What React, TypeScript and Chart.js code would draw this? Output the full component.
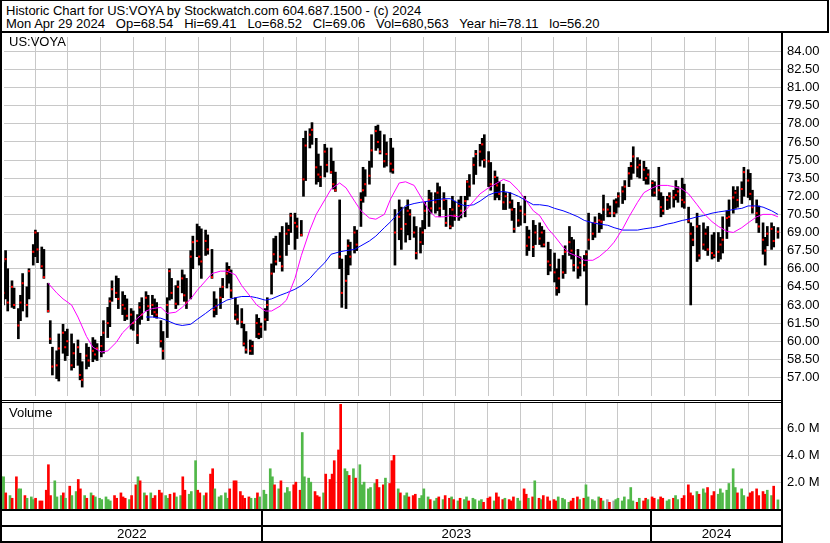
import React, { useEffect, useRef } from 'react';
import { Chart, registerables } from 'chart.js';
Chart.register(...registerables);

// ---------------- data ----------------
const FIRST_DAY = '2022-05-02';      // first sampled session
const STEP_WEEKDAYS = 2;              // one bar every second weekday
const MONTH_FIRST = '2022-06';
const MONTH_LAST = '2024-04';
const yearLabels = ['2022', '2023', '2024'];
const priceTicks = [57, 58.5, 60, 61.5, 63, 64.5, 66, 67.5, 69, 70.5, 72, 73.5, 75, 76.5, 78, 79.5, 81, 82.5, 84];
const volumeTicks = [2, 4, 6]; // millions

const highs = [
  66.5, 67.5, 66.0, 65.0, 64.4, 62.7, 63.8, 65.6, 64.5, 66.0,
  68.0, 69.2, 69.0, 67.8, 67.6, 64.8, 61.7, 59.5, 59.2, 60.6,
  61.4, 60.8, 61.0, 60.6, 59.8, 60.1, 59.0, 58.3, 59.8, 59.5,
  60.3, 60.1, 59.8, 60.4, 61.7, 62.8, 63.6, 65.0, 65.4, 65.2,
  64.1, 63.8, 63.5, 62.7, 62.5, 62.2, 63.2, 63.6, 64.1, 63.8,
  63.8, 63.5, 63.2, 61.7, 60.8, 63.6, 66.0, 65.2, 64.6, 65.0,
  65.9, 65.5, 65.2, 67.5, 68.7, 69.7, 69.5, 69.3, 69.2, 68.8,
  67.6, 64.1, 63.5, 64.4, 65.2, 66.5, 66.2, 65.9, 63.6, 63.0,
  62.7, 61.4, 60.8, 60.1, 60.0, 62.2, 61.9, 61.5, 62.7, 63.6,
  66.4, 68.5, 68.7, 69.0, 69.5, 69.8, 69.6, 70.6, 70.6, 70.2,
  70.0, 76.8, 77.4, 77.6, 78.1, 76.8, 75.5, 74.5, 76.3, 76.0,
  76.0, 74.9, 74.0, 71.7, 66.8, 67.1, 68.4, 68.2, 69.5, 69.2,
  72.3, 74.4, 74.2, 74.9, 77.1, 77.8, 77.9, 77.4, 77.1, 76.5,
  76.8, 76.0, 70.9, 71.7, 71.1, 71.1, 71.7, 70.9, 70.3, 69.5,
  69.4, 70.0, 71.5, 72.5, 72.3, 72.3, 73.1, 72.8, 72.3, 71.7,
  71.0, 72.0, 71.6, 71.7, 72.0, 72.0, 73.3, 73.8, 75.2, 75.8,
  76.3, 76.8, 77.1, 75.7, 74.8, 74.1, 73.6, 73.2, 73.0, 72.3,
  72.3, 71.7, 71.0, 71.5, 71.2, 72.0, 69.5, 69.2, 70.0, 69.6,
  69.8, 69.5, 69.2, 68.2, 67.6, 67.3, 66.0, 66.8, 67.1, 67.9,
  69.5, 68.6, 68.4, 67.6, 67.0, 67.1, 67.5, 70.6, 69.8, 70.3,
  70.6, 70.5, 72.1, 71.4, 71.2, 71.7, 71.8, 72.3, 72.8, 73.3,
  74.4, 74.8, 76.1, 75.2, 75.0, 74.9, 74.4, 74.2, 73.3, 73.2,
  74.4, 72.3, 72.0, 72.0, 72.3, 72.5, 73.3, 72.8, 73.5, 73.0,
  71.1, 69.8, 69.5, 70.6, 69.6, 69.8, 69.3, 69.5, 68.8, 69.0,
  69.0, 68.6, 70.3, 70.8, 71.7, 72.8, 72.5, 72.8, 73.2, 74.4,
  74.2, 73.9, 72.5, 71.7, 71.2, 69.8, 68.6, 69.5, 69.8, 69.5,
  69.41,
];
const lows = [
  63.0, 63.5, 62.5, 62.8, 62.7, 60.2, 61.7, 62.5, 62.0, 63.5,
  66.3, 67.0, 66.5, 66.0, 65.2, 62.4, 59.8, 57.2, 56.9, 56.7,
  59.0, 58.4, 58.8, 57.6, 57.8, 58.0, 56.8, 56.2, 57.7, 57.9,
  58.3, 58.5, 58.4, 58.7, 59.0, 60.3, 61.2, 63.3, 63.6, 62.7,
  62.2, 61.7, 61.8, 61.0, 60.9, 59.8, 61.4, 61.8, 62.5, 61.7,
  62.2, 62.0, 61.9, 59.5, 58.5, 60.3, 63.4, 63.5, 62.7, 63.0,
  64.0, 63.3, 62.7, 63.5, 66.0, 67.0, 66.3, 65.2, 67.1, 67.2,
  65.2, 62.0, 62.2, 62.7, 63.6, 64.4, 64.8, 63.6, 61.8, 61.4,
  61.1, 59.6, 59.0, 58.9, 58.9, 60.3, 60.2, 60.3, 60.9, 61.7,
  63.9, 65.7, 66.3, 66.6, 65.8, 67.1, 68.0, 69.0, 67.6, 68.5,
  68.7, 72.0, 73.3, 76.0, 76.3, 73.0, 73.2, 72.8, 73.6, 74.0,
  73.9, 72.6, 72.4, 66.0, 62.8, 62.7, 65.5, 66.3, 67.3, 67.5,
  69.5, 71.5, 72.0, 73.0, 74.4, 75.8, 76.0, 75.5, 74.4, 74.5,
  74.0, 73.9, 66.3, 68.4, 67.6, 68.2, 68.8, 68.4, 68.6, 66.8,
  67.3, 68.0, 69.3, 69.5, 70.6, 70.6, 70.8, 70.3, 70.9, 69.5,
  69.3, 69.5, 70.0, 70.0, 70.2, 70.3, 71.7, 72.0, 73.0, 73.8,
  74.5, 75.0, 74.4, 72.8, 72.5, 71.7, 71.9, 71.7, 70.9, 70.9,
  71.0, 70.0, 69.0, 69.5, 69.6, 69.8, 67.1, 67.5, 67.0, 68.0,
  68.0, 67.8, 67.8, 65.5, 65.8, 64.9, 63.8, 64.0, 65.2, 65.6,
  67.1, 66.8, 65.8, 65.2, 65.4, 65.8, 63.0, 67.6, 68.4, 68.6,
  69.0, 69.3, 70.0, 70.3, 70.3, 70.3, 70.6, 71.1, 71.4, 71.7,
  72.8, 73.4, 73.9, 73.6, 73.5, 73.3, 73.0, 73.0, 72.0, 72.0,
  71.7, 70.3, 70.5, 70.9, 71.0, 71.1, 71.7, 71.5, 71.1, 71.0,
  69.8, 63.0, 67.9, 66.6, 66.8, 67.6, 67.5, 67.1, 66.8, 66.9,
  66.6, 66.8, 67.3, 68.5, 69.5, 70.6, 71.0, 71.1, 71.4, 72.0,
  71.9, 71.7, 70.6, 69.8, 69.0, 67.2, 66.3, 67.9, 67.6, 67.8,
  68.52,
];
const closes = [
  64.0, 66.8, 63.2, 64.5, 63.0, 61.3, 63.2, 64.8, 63.0, 65.8,
  67.4, 69.0, 67.6, 66.2, 65.3, 62.5, 60.2, 57.9, 58.0, 59.4,
  60.7, 59.5, 60.0, 58.0, 59.0, 59.5, 57.2, 56.8, 58.8, 58.4,
  59.2, 58.9, 59.4, 59.6, 60.7, 61.5, 63.3, 64.3, 64.0, 63.5,
  63.0, 62.7, 62.1, 62.2, 61.5, 60.5, 62.8, 62.2, 63.6, 62.9,
  63.0, 62.4, 62.2, 60.0, 59.2, 63.0, 65.8, 64.0, 63.1, 64.5,
  65.2, 63.8, 63.2, 67.0, 68.2, 68.3, 67.0, 66.6, 68.3, 67.6,
  65.3, 62.6, 62.9, 63.6, 64.5, 65.6, 65.9, 64.2, 62.2, 61.8,
  61.6, 59.8, 59.3, 59.2, 59.6, 61.5, 60.6, 61.2, 61.8, 63.0,
  65.6, 67.2, 66.6, 67.0, 66.2, 68.9, 69.2, 70.4, 69.8, 69.5,
  68.8, 73.4, 76.2, 77.1, 77.5, 74.4, 73.8, 73.6, 75.7, 74.6,
  74.0, 73.0, 72.5, 67.0, 64.0, 65.0, 67.9, 67.0, 69.0, 68.0,
  71.7, 72.5, 73.0, 73.7, 75.8, 77.4, 76.5, 75.7, 74.9, 75.5,
  74.7, 74.2, 69.0, 70.3, 69.3, 69.7, 70.8, 70.5, 69.0, 67.3,
  68.2, 69.0, 70.8, 71.7, 71.0, 71.5, 72.3, 71.0, 71.7, 69.8,
  69.5, 70.9, 70.4, 71.2, 70.8, 71.6, 73.2, 72.8, 74.6, 75.5,
  75.7, 76.3, 75.0, 74.9, 73.0, 73.6, 72.9, 72.2, 71.5, 72.0,
  71.5, 70.9, 69.3, 70.0, 70.8, 70.5, 67.9, 68.6, 67.8, 69.0,
  68.5, 69.0, 68.0, 66.6, 66.3, 65.7, 64.4, 65.2, 65.7, 67.4,
  68.2, 67.5, 66.3, 66.1, 66.5, 66.3, 67.2, 68.4, 68.9, 69.8,
  70.0, 69.9, 70.9, 70.9, 70.6, 70.6, 71.5, 72.0, 72.4, 72.8,
  73.9, 74.5, 75.3, 74.4, 74.6, 74.2, 73.5, 73.8, 73.1, 72.3,
  72.5, 71.1, 70.8, 71.7, 72.0, 71.9, 72.1, 72.4, 71.7, 71.5,
  70.0, 68.9, 68.4, 69.5, 67.1, 68.0, 68.9, 67.6, 67.3, 67.1,
  67.4, 68.0, 68.4, 70.2, 70.3, 71.9, 72.3, 71.7, 72.6, 74.0,
  73.3, 72.2, 71.1, 70.6, 69.5, 68.4, 67.5, 68.9, 69.3, 68.3,
  69.06,
];
const volumes = [ // millions of shares
  2.4, 2.4, 1.2, 1.0, 0.8, 2.4, 1.5, 1.5, 1.0, 0.8,
  0.9, 0.7, 0.8, 0.6, 0.6, 1.4, 3.3, 1.0, 2.1, 0.9,
  1.0, 1.2, 0.8, 1.7, 1.0, 1.3, 2.2, 1.5, 1.0, 0.8,
  1.2, 1.0, 0.9, 0.8, 0.7, 0.9, 0.7, 0.6, 1.0, 0.8,
  1.2, 0.9, 0.8, 0.7, 1.0, 1.8, 2.4, 2.1, 1.2, 1.0,
  1.2, 0.8, 1.0, 1.4, 1.2, 1.0, 0.8, 1.1, 1.2, 0.9,
  1.0, 2.4, 1.4, 1.1, 1.3, 3.6, 1.4, 1.2, 1.0, 1.2,
  2.6, 3.0, 1.5, 0.9, 1.0, 1.2, 0.8, 1.5, 2.1, 2.1,
  1.3, 1.0, 0.8, 0.9, 0.8, 0.8, 1.2, 0.9, 1.4, 1.1,
  3.0, 2.4, 1.8, 1.5, 2.1, 1.2, 1.6, 1.3, 1.8, 2.0,
  1.4, 5.7, 2.4, 2.3, 2.0, 1.3, 1.0, 0.9, 1.2, 2.6,
  2.2, 2.6, 3.6, 4.4, 7.8, 3.0, 2.8, 2.5, 3.0, 2.3,
  3.3, 1.8, 2.0, 1.5, 1.6, 1.9, 2.2, 1.6, 1.8, 2.3,
  1.9, 3.6, 4.0, 1.5, 1.2, 1.0, 1.2, 0.9, 1.0, 1.1,
  0.8, 1.0, 1.5, 0.9, 0.7, 0.6, 0.8, 0.9, 0.7, 1.0,
  0.8, 0.9, 0.7, 0.6, 0.8, 0.7, 0.9, 0.6, 0.8, 0.7,
  0.6, 0.7, 0.5, 0.8, 0.9, 0.6, 1.2, 0.9, 0.7, 0.8,
  0.7, 0.6, 0.9, 0.8, 0.6, 1.5, 1.1, 0.8, 0.9, 2.1,
  0.8, 0.7, 1.0, 0.9, 0.6, 0.7, 0.6, 0.9, 0.8, 0.7,
  0.5, 0.6, 0.8, 0.9, 0.7, 0.8, 1.8, 0.9, 0.7, 0.6,
  0.9, 0.8, 0.6, 0.7, 0.5, 0.6, 0.7, 0.8, 0.6, 0.9,
  0.7, 1.6, 0.6, 0.5, 0.8, 0.6, 0.8, 0.7, 0.9, 0.8,
  0.7, 0.9, 0.8, 0.6, 0.7, 0.8, 1.0, 0.7, 0.8, 1.0,
  1.8, 1.2, 1.0, 1.3, 1.1, 1.5, 1.2, 1.6, 1.0, 1.3,
  1.1, 1.5, 1.2, 1.4, 1.9, 3.0, 1.6, 1.2, 1.5, 1.0,
  0.9, 1.2, 1.3, 1.5, 1.0, 1.3, 1.1, 1.4, 1.0, 1.7,
  0.68,
];
// moving averages, read at the 1st and 4th bar of each two-week group
const maShort = [
  null, null, null, null, null, null, 64.8, 64.0, 63.5, 63.0,
  62.0, 60.4, 59.5, 59.1, 59.2, 59.9, 60.7, 61.4, 61.9, 62.5,
  62.7, 62.8, 62.3, 62.4, 62.8, 63.5, 64.2, 65.0, 65.6, 65.8,
  65.8, 65.5, 64.6, 63.7, 63.0, 62.5, 62.5, 62.9, 63.4, 65.2,
  67.1, 69.2, 70.5, 71.7, 72.6, 73.1, 72.7, 71.6, 70.8, 70.2,
  70.1, 70.5, 71.8, 73.1, 73.2, 72.9, 72.0, 70.8, 70.3, 70.3,
  70.4, 70.3, 70.8, 71.6, 72.2, 72.7, 73.0, 73.4, 73.2, 72.5,
  71.8, 70.8, 70.4, 69.3, 68.7, 67.8, 67.3, 67.0, 66.7, 66.7,
  67.0, 67.6, 68.2, 69.3, 70.3, 71.5, 72.3, 72.7, 72.9, 72.9,
  72.8, 72.6, 72.2, 71.3, 70.6, 69.9, 69.5, 69.1, 69.0, 69.4,
  69.8, 70.3, 70.5, 70.5, 70.3,
];
const maLong = [
  null, null, null, null, null, null, null, null, null, null,
  null, null, null, null, null, null, null, null, null, 62.0,
  62.0, 61.9, 61.7, 61.4, 61.3, 61.4, 61.8, 62.3, 62.7, 63.1,
  63.4, 63.6, 63.7, 63.7, 63.6, 63.4, 63.5, 63.8, 64.0, 64.3,
  64.6, 65.2, 65.8, 66.5, 67.2, 67.4, 67.5, 67.6, 67.9, 68.3,
  68.7, 69.4, 69.9, 70.7, 71.2, 71.4, 71.5, 71.6, 71.7, 71.8,
  71.8, 71.4, 71.2, 71.3, 71.6, 72.1, 72.3, 72.4, 72.3, 72.0,
  71.7, 71.3, 71.3, 71.2, 71.0, 70.8, 70.6, 70.3, 70.0, 69.8,
  69.7, 69.6, 69.4, 69.2, 69.2, 69.2, 69.3, 69.4, 69.5, 69.7,
  69.8, 70.0, 70.1, 70.3, 70.4, 70.6, 70.7, 70.8, 70.9, 71.0,
  71.2, 71.2, 71.1, 70.8, 70.5,
];

// ---------------- helpers ----------------
const FONT = '"Liberation Sans", Arial, Helvetica, sans-serif';
const GRID = '#c8c8c8';
const EPOCH = Date.UTC(2022, 4, 1);
const dayOf = (iso: string) => {
  const [y, m, d] = iso.split('-').map(Number);
  return (Date.UTC(y, m - 1, d || 1) - EPOCH) / 86400000;
};
const firstDay = dayOf(FIRST_DAY);
const sampleDay = (k: number) => {
  const w = k * STEP_WEEKDAYS;
  return firstDay + 7 * Math.floor(w / 5) + (w % 5);
};
const maSample = (i: number) => 5 * Math.floor(i / 2) + (i % 2 ? 3 : 0);

const monthDays: number[] = (() => {
  const out: number[] = [];
  let [y, m] = MONTH_FIRST.split('-').map(Number);
  const [ly, lm] = MONTH_LAST.split('-').map(Number);
  while (y < ly || (y === ly && m <= lm)) {
    out.push(dayOf(`${y}-${String(m).padStart(2, '0')}-01`));
    m++; if (m > 12) { m = 1; y++; }
  }
  return out;
})();

const X_MIN = 1.5;
const X_MAX = 732.8;
const yearStarts = yearLabels.map((y) => dayOf(`${y}-01-01`));
const yearCenters = yearLabels.map((y) => {
  const s = Math.max(dayOf(`${y}-01-01`), X_MIN);
  const e = Math.min(dayOf(`${Number(y) + 1}-01-01`), X_MAX);
  return (s + e) / 2;
});

const noPad = (s: any) => { s.paddingTop = 0; s.paddingBottom = 0; s.paddingLeft = 0; s.paddingRight = 0; };

const monthAxis = () => ({
  type: 'linear', position: 'bottom', min: X_MIN, max: X_MAX, offset: false,
  grid: { color: GRID, lineWidth: 1, drawTicks: false, offset: false },
  border: { display: false },
  ticks: { display: false },
  afterBuildTicks: (s: any) => { s.ticks = monthDays.map((v) => ({ value: v })); },
  afterFit: (s: any) => { s.height = 0; noPad(s); },
});

export default function App() {
  const priceRef = useRef<HTMLCanvasElement>(null);
  const volRef = useRef<HTMLCanvasElement>(null);

  useEffect(() => {
    const bars = highs.map((h, k) => ({ x: sampleDay(k), y: [lows[k], h] }));
    const closePts = closes.map((c, k) => ({ x: sampleDay(k), y: c }));
    const maPts = (arr: (number | null)[]) =>
      arr.map((v, i) => (v == null ? null : { x: sampleDay(maSample(i)), y: v })).filter(Boolean);

    const price = new Chart(priceRef.current as HTMLCanvasElement, {
      type: 'bar',
      data: {
        datasets: [
          { type: 'line', label: 'MA short', data: maPts(maShort), borderColor: '#ff00ff', borderWidth: 1, pointRadius: 0, order: 0 },
          { type: 'line', label: 'MA long', data: maPts(maLong), borderColor: '#0000ff', borderWidth: 1, pointRadius: 0, order: 0 },
          { type: 'line', label: 'Close', data: closePts, showLine: false, pointStyle: 'rect', pointRadius: 1.45, pointBorderWidth: 0, pointBackgroundColor: '#ff0000', order: 1 },
          { type: 'bar', label: 'Range', data: bars, backgroundColor: '#000000', barThickness: 2, order: 2 },
        ] as any,
      },
      options: {
        responsive: false, animation: false, devicePixelRatio: 1, events: [],
        layout: { padding: { left: 2, right: 0, top: 0, bottom: 0 } },
        plugins: { legend: { display: false }, tooltip: { enabled: false } },
        scales: {
          x: monthAxis() as any,
          y: {
            type: 'linear', position: 'right', min: 55.46, max: 85.19,
            grid: { color: GRID, lineWidth: 1, drawTicks: false },
            border: { display: false },
            ticks: { padding: 5, color: '#000', font: { family: FONT, size: 13 }, callback: (v: any) => Number(v).toFixed(2) },
            afterBuildTicks: (s: any) => { s.ticks = priceTicks.map((v) => ({ value: v })); },
            afterFit: (s: any) => { s.width = 48; noPad(s); },
          } as any,
        },
      },
    });

    const volColors = volumes.map((_, k) => {
      if (k === 0) return '#50b848';
      if (closes[k] > closes[k - 1]) return '#50b848';
      if (closes[k] < closes[k - 1]) return '#ff0000';
      return '#a8a8a8';
    });

    const separators = {
      id: 'yearSeparators',
      afterDraw(chart: any) {
        const { ctx, chartArea } = chart;
        const sx = chart.scales.xYear;
        ctx.save();
        ctx.fillStyle = '#000';
        yearStarts.forEach((d) => {
          if (d <= X_MIN || d >= X_MAX) return;
          const px = Math.round(sx.getPixelForValue(d));
          ctx.fillRect(px - 1, chartArea.bottom, 2, chart.height - chartArea.bottom);
        });
        ctx.restore();
      },
    };

    const vol = new Chart(volRef.current as HTMLCanvasElement, {
      type: 'bar',
      data: {
        datasets: [
          { label: 'Volume', data: volumes.map((v, k) => ({ x: sampleDay(k), y: v })), backgroundColor: volColors, barThickness: 2, xAxisID: 'x', yAxisID: 'y' },
        ] as any,
      },
      options: {
        responsive: false, animation: false, devicePixelRatio: 1, events: [],
        layout: { padding: { left: 2, right: 0, top: 0, bottom: 0 } },
        plugins: { legend: { display: false }, tooltip: { enabled: false } },
        scales: {
          x: monthAxis() as any,
          xYear: {
            type: 'linear', position: 'bottom', min: X_MIN, max: X_MAX, offset: false,
            grid: { display: false, drawTicks: false },
            border: { display: false },
            ticks: { color: '#000', font: { family: FONT, size: 13.33 }, padding: 17.5, maxRotation: 0, autoSkip: false, callback: (_v: any, i: number) => yearLabels[i] },
            afterBuildTicks: (s: any) => { s.ticks = yearCenters.map((v) => ({ value: v })); },
            afterFit: (s: any) => { s.height = 34; noPad(s); },
          } as any,
          y: {
            type: 'linear', position: 'right', min: 0, max: 7.9,
            grid: { color: GRID, lineWidth: 1, drawTicks: false },
            border: { display: false },
            ticks: { padding: 5, color: '#000', font: { family: FONT, size: 13 }, callback: (v: any) => `${Number(v).toFixed(1)} M` },
            afterBuildTicks: (s: any) => { s.ticks = volumeTicks.map((v) => ({ value: v })); },
            afterFit: (s: any) => { s.width = 48; noPad(s); },
          } as any,
        },
      },
      plugins: [separators],
    });

    return () => { price.destroy(); vol.destroy(); };
  }, []);

  const line = (left: number, top: number, width: number, height: number): React.CSSProperties => ({
    position: 'absolute', left, top, width, height, background: '#000',
  });
  const txt: React.CSSProperties = {
    position: 'absolute', fontFamily: FONT, fontSize: '13px', lineHeight: '13px', color: '#000', whiteSpace: 'pre',
  };

  return (
    <div style={{ position: 'absolute', left: 0, top: 0, width: 830, height: 543, background: '#fff', overflow: 'hidden' }}>
      <canvas ref={priceRef} width={830} height={367} style={{ position: 'absolute', left: 0, top: 33 }} />
      <canvas ref={volRef} width={830} height={140} style={{ position: 'absolute', left: 0, top: 403 }} />

      {/* header box */}
      <div style={{ position: 'absolute', left: 0, top: 0, width: 829, height: 33, boxSizing: 'border-box', borderTop: '1px solid #000', borderLeft: '2px solid #000', borderRight: '2px solid #000', borderBottom: '2px solid #000' }} />
      <div style={{ ...txt, left: 6, top: 4 }}>Historic Chart for US:VOYA by Stockwatch.com 604.687.1500 - (c) 2024</div>
      <div style={{ ...txt, left: 6, top: 16.6 }}>{'Mon Apr 29 2024   Op=68.54   Hi=69.41   Lo=68.52   Cl=69.06   Vol=680,563   Year hi=78.11   lo=56.20'}</div>

      {/* frame */}
      <div style={line(0, 33, 2, 510)} />
      <div style={line(781, 33, 2, 510)} />
      <div style={line(2, 400, 779, 1)} />
      <div style={line(2, 402, 779, 1)} />
      <div style={line(0, 509, 783, 2)} />
      <div style={line(0, 525, 783, 2)} />
      <div style={line(0, 541, 783, 2)} />

      <div style={{ ...txt, left: 9, top: 35 }}>US:VOYA</div>
      <div style={{ ...txt, left: 9, top: 406 }}>Volume</div>
    </div>
  );
}
